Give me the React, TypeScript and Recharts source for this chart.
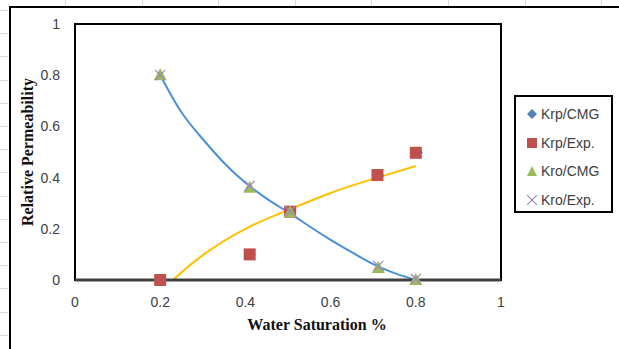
import React from 'react';
import {
  ComposedChart,
  Line,
  Scatter,
  XAxis,
  YAxis,
  ReferenceArea,
} from 'recharts';

// experimental / simulated relative permeability points
const krpSw = [0.2, 0.41, 0.505, 0.71, 0.8];
const krpExp = [0, 0.1, 0.267, 0.41, 0.497];
const krpCmgSw = [0.203, 0.413, 0.508, 0.713, 0.805];
const krpCmg = [0, 0.1, 0.268, 0.41, 0.498];
const kroSw = [0.2, 0.41, 0.505, 0.712, 0.8];
const kroCmg = [0.8, 0.36, 0.265, 0.047, 0];
const kroExp = [0.8, 0.368, 0.268, 0.055, 0.004];

// trend lines
const kroTrendSw = [0.2, 0.25, 0.3, 0.35, 0.4, 0.45, 0.5, 0.55, 0.6, 0.65, 0.7, 0.75, 0.8];
const kroTrend = [0.8, 0.655, 0.55, 0.457, 0.38, 0.318, 0.265, 0.21, 0.157, 0.108, 0.062, 0.027, 0];
const krpTrendSw = [0.23, 0.3, 0.4, 0.5, 0.6, 0.7, 0.8];
const krpTrend = [0, 0.097, 0.2, 0.273, 0.34, 0.395, 0.445];

const axisTicks = [0, 0.2, 0.4, 0.6, 0.8, 1];

const toPoints = (xs: number[], ys: number[]) => xs.map((x, i) => ({ x, y: ys[i] }));

const BLUE = '#4f81bd';
const LINE_BLUE = '#4a90d9';
const RED = '#c0504d';
const GREEN = '#9bbb59';
const PURPLE = '#9a88c0';
const YELLOW = '#ffc000';

// eslint-disable-next-line @typescript-eslint/no-explicit-any
function Diamond({ cx, cy }: any) {
  const r = 5;
  return <path d={`M${cx},${cy - r}L${cx + r},${cy}L${cx},${cy + r}L${cx - r},${cy}Z`} fill={BLUE} />;
}

// eslint-disable-next-line @typescript-eslint/no-explicit-any
function Square({ cx, cy }: any) {
  const s = 12;
  return <rect x={cx - s / 2} y={cy - s / 2} width={s} height={s} fill={RED} />;
}

// eslint-disable-next-line @typescript-eslint/no-explicit-any
function Triangle({ cx, cy }: any) {
  return <path d={`M${cx},${cy - 7}L${cx + 6.5},${cy + 5}L${cx - 6.5},${cy + 5}Z`} fill={GREEN} />;
}

// eslint-disable-next-line @typescript-eslint/no-explicit-any
function Cross({ cx, cy }: any) {
  const r = 5;
  return (
    <g stroke={PURPLE} strokeWidth={1.2}>
      <line x1={cx - r} y1={cy - r} x2={cx + r} y2={cy + r} />
      <line x1={cx - r} y1={cy + r} x2={cx + r} y2={cy - r} />
    </g>
  );
}

const legendItems = [
  { name: 'Krp/CMG', icon: <path d="M5,0L10,5L5,10L0,5Z" fill={BLUE} /> },
  { name: 'Krp/Exp.', icon: <rect x={0} y={0} width={10} height={10} fill={RED} /> },
  { name: 'Kro/CMG', icon: <path d="M5,0L10,10L0,10Z" fill={GREEN} /> },
  {
    name: 'Kro/Exp.',
    icon: (
      <g stroke={PURPLE} strokeWidth={1.2}>
        <line x1={0} y1={0} x2={10} y2={10} />
        <line x1={0} y1={10} x2={10} y2={0} />
      </g>
    ),
  },
];

const tickFont = { fontSize: 14, fill: '#404040', fontFamily: '"Liberation Sans", Arial, sans-serif' };

export default function App() {
  const leftMarks = Array.from({ length: 15 }, (_, i) => 10 + i * 23.2);
  const topMarks = Array.from({ length: 8 }, (_, i) => 65 + i * 76.6);

  return (
    <div style={{ position: 'absolute', left: 0, top: 0, width: 619, height: 349, background: '#fff', overflow: 'hidden' }}>
      {leftMarks.map((y) => (
        <div key={'l' + y} style={{ position: 'absolute', left: 0, top: Math.round(y), width: 8, height: 1, background: '#d9d9d9' }} />
      ))}
      {topMarks.map((x) => (
        <div key={'t' + x} style={{ position: 'absolute', left: Math.round(x), top: 0, width: 1, height: 6, background: '#d9d9d9' }} />
      ))}
      <div
        style={{
          position: 'absolute',
          left: 9,
          top: 6,
          width: 640,
          height: 400,
          borderLeft: '2.5px solid #000',
          borderTop: '2.5px solid #000',
        }}
      />
      <div style={{ position: 'absolute', left: 0, top: 0 }}>
        <ComposedChart width={619} height={349} margin={{ top: 24, right: 118, bottom: 0, left: 0 }}>
          <XAxis
            type="number"
            dataKey="x"
            domain={[0, 1]}
            ticks={axisTicks}
            height={69}
            tickSize={0}
            tickMargin={17}
            tick={tickFont}
            axisLine={{ stroke: '#404040', strokeWidth: 3 }}
          />
          <YAxis
            type="number"
            dataKey="y"
            domain={[0, 1]}
            ticks={axisTicks}
            width={75}
            tickSize={0}
            tickMargin={15}
            tick={tickFont}
            axisLine={false}
          />
          <ReferenceArea x1={0} x2={1} y1={0} y2={1} fill="none" stroke="#000" strokeWidth={2} />
          <Line
            data={toPoints(kroTrendSw, kroTrend)}
            dataKey="y"
            type="natural"
            stroke={LINE_BLUE}
            strokeWidth={2}
            dot={false}
            activeDot={false}
            isAnimationActive={false}
          />
          <Line
            data={toPoints(krpTrendSw, krpTrend)}
            dataKey="y"
            type="natural"
            stroke={YELLOW}
            strokeWidth={2}
            dot={false}
            activeDot={false}
            isAnimationActive={false}
          />
          <Scatter data={toPoints(krpCmgSw, krpCmg)} shape={Diamond} isAnimationActive={false} />
          <Scatter data={toPoints(krpSw, krpExp)} shape={Square} isAnimationActive={false} />
          <Scatter data={toPoints(kroSw, kroCmg)} shape={Triangle} isAnimationActive={false} />
          <Scatter data={toPoints(kroSw, kroExp)} shape={Cross} isAnimationActive={false} />
        </ComposedChart>
      </div>
      <div
        style={{
          position: 'absolute',
          left: 28,
          top: 152,
          transform: 'translate(-50%, -50%) rotate(-90deg)',
          whiteSpace: 'nowrap',
          fontFamily: '"Liberation Serif", "Times New Roman", serif',
          fontWeight: 'bold',
          fontSize: 16,
          color: '#111',
        }}
      >
        Relative Permeability
      </div>
      <div
        style={{
          position: 'absolute',
          left: 317,
          top: 325,
          transform: 'translate(-50%, -50%)',
          whiteSpace: 'nowrap',
          fontFamily: '"Liberation Serif", "Times New Roman", serif',
          fontWeight: 'bold',
          fontSize: 16,
          color: '#111',
        }}
      >
        Water Saturation %
      </div>
      <div
        style={{
          position: 'absolute',
          left: 514,
          top: 95,
          width: 99,
          height: 118,
          boxSizing: 'border-box',
          border: '2.5px solid #000',
          background: '#fff',
        }}
      >
        {legendItems.map((item, i) => (
          <div
            key={item.name}
            style={{
              position: 'absolute',
              left: 11,
              top: 8 + i * 28.5,
              height: 18,
              display: 'flex',
              alignItems: 'center',
              fontFamily: '"Liberation Sans", Arial, sans-serif',
              fontSize: 14,
              color: '#404040',
              whiteSpace: 'nowrap',
            }}
          >
            <svg width={10} height={10} style={{ marginRight: 4 }}>
              {item.icon}
            </svg>
            {item.name}
          </div>
        ))}
      </div>
    </div>
  );
}
